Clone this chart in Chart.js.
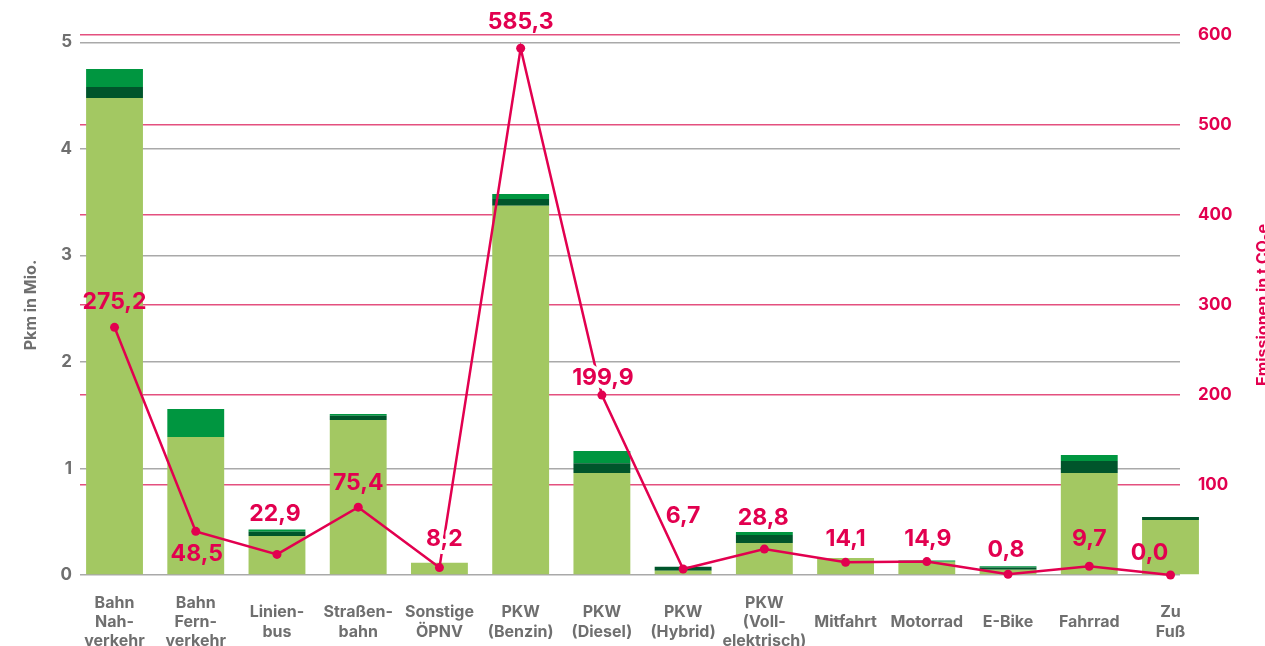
<!DOCTYPE html>
<html>
<head>
<meta charset="utf-8">
<script src="https://cdn.jsdelivr.net/npm/chart.js@4.4.1/dist/chart.umd.min.js"></script>
<style>
html,body{margin:0;padding:0;background:#fff;overflow:hidden}
#wrap{width:1265px;height:646px;position:relative}
</style>
</head>
<body>
<div id="wrap"><canvas id="c" width="1265" height="646"></canvas></div>
<script>
// ---- data ----
const categories = [
  ['Bahn','Nah-','verkehr'], ['Bahn','Fern-','verkehr'], ['Linien-','bus'], ['Straßen-','bahn'],
  ['Sonstige','ÖPNV'], ['PKW','(Benzin)'], ['PKW','(Diesel)'], ['PKW','(Hybrid)'],
  ['PKW','(Voll-','elektrisch)'], 'Mitfahrt', 'Motorrad', 'E-Bike', 'Fahrrad', ['Zu','Fuß']
];
const pkmLight  = [4.477, 1.295, 0.366, 1.455, 0.115, 3.466, 0.957, 0.040, 0.300, 0.160, 0.125, 0.050, 0.957, 0.516];
const pkmDark   = [0.103, 0.000, 0.040, 0.040, 0.000, 0.063, 0.091, 0.038, 0.075, 0.000, 0.000, 0.020, 0.113, 0.028];
const pkmMedium = [0.169, 0.263, 0.020, 0.016, 0.000, 0.047, 0.115, 0.000, 0.028, 0.000, 0.012, 0.012, 0.056, 0.000];
const emissions = [275.2, 48.5, 22.9, 75.4, 8.2, 585.3, 199.9, 6.7, 28.8, 14.1, 14.9, 0.8, 9.7, 0.0];
const leftTickStep = 1;
const rightTickStep = 100;
const leftTitle = 'Pkm in Mio.';
const rightTitle = 'Emissionen in t CO\u2082e';

// ---- styles ----
const PINK = '#e2004f';
const GRAY = '#6f6f6f';
const FONT = 'Inter';
const labelOffsets = [[0,-25],[1,23],[-2,-40],[0,-24],[5,-29],[0,-26],[1,-17],[0,-53],[-1,-31],[0,-23],[1,-23],[-2,-24],[0,-27],[-21,-22]];
const labelHalo = [false,false,false,false,true,false,true,false,false,false,false,false,false,false];

const toXY = arr => arr.map((v, i) => ({x: i, y: v}));

const valueLabels = {
  id: 'valueLabels',
  afterDatasetsDraw(chart) {
    const meta = chart.getDatasetMeta(3);
    const ctx = chart.ctx;
    ctx.save();
    ctx.font = 'bold 23px ' + FONT;
    ctx.textAlign = 'center';
    ctx.textBaseline = 'middle';
    ctx.lineJoin = 'round';
    meta.data.forEach((pt, i) => {
      const off = labelOffsets[i] || [0, -25];
      const txt = emissions[i].toFixed(1).replace('.', ',');
      const x = pt.x + off[0], y = pt.y + off[1];
      if (labelHalo[i]) {
        ctx.strokeStyle = '#ffffff';
        ctx.lineWidth = 8;
        ctx.strokeText(txt, x, y);
      }
      ctx.fillStyle = PINK;
      ctx.fillText(txt, x, y);
    });
    ctx.restore();
  }
};

const rightAxisTitle = {
  id: 'rightAxisTitle',
  afterDraw(chart) {
    const ctx = chart.ctx;
    const a = chart.chartArea;
    ctx.save();
    ctx.translate(1263, (a.top + a.bottom) / 2);
    ctx.rotate(-Math.PI / 2);
    ctx.font = 'bold 16px ' + FONT;
    ctx.fillStyle = PINK;
    ctx.textAlign = 'center';
    ctx.textBaseline = 'middle';
    ctx.fillText(rightTitle, 0, 0);
    ctx.restore();
  }
};

new Chart(document.getElementById('c'), {
  type: 'bar',
  data: {
    datasets: [
      {label: 'Pkm A', data: toXY(pkmLight), backgroundColor: '#a3c862', yAxisID: 'y', order: 2, clip: false},
      {label: 'Pkm B', data: toXY(pkmDark), backgroundColor: '#00552b', yAxisID: 'y', order: 2, clip: false},
      {label: 'Pkm C', data: toXY(pkmMedium), backgroundColor: '#009640', yAxisID: 'y', order: 2, clip: false},
      {type: 'line', label: 'Emissionen', data: toXY(emissions), yAxisID: 'y2', order: 0, clip: false,
       borderColor: PINK, borderWidth: 2.5, pointRadius: 4.5, pointBackgroundColor: PINK,
       pointBorderWidth: 0, tension: 0}
    ]
  },
  options: {
    responsive: false,
    animation: false,
    devicePixelRatio: 1,
    categoryPercentage: 1,
    barPercentage: 0.7,
    layout: {padding: {top: 35, left: 0, right: 0, bottom: 0}},
    plugins: {legend: {display: false}, tooltip: {enabled: false}},
    scales: {
      x: {
        type: 'linear', min: -0.425, max: 13.117, stacked: true, offset: false,
        grid: {display: false, drawTicks: false}, border: {display: false},
        ticks: {
          stepSize: 1, includeBounds: false, autoSkip: false, maxRotation: 0, minRotation: 0,
          crossAlign: 'center', padding: 28, color: GRAY,
          font: {family: FONT, weight: 'bold', size: 16, lineHeight: 1.2},
          callback: v => (Number.isInteger(v) && categories[v] !== undefined) ? categories[v] : ''
        },
        afterFit: s => { s.height = 71; }
      },
      y: {
        position: 'left', min: 0, max: 5.0685, stacked: true,
        grid: {color: '#a9a9a9', lineWidth: 1.5, drawTicks: false},
        border: {display: false},
        ticks: {stepSize: leftTickStep, includeBounds: false, padding: 8, color: GRAY,
                font: {family: FONT, weight: 'bold', size: 17}},
        title: {display: true, text: leftTitle, color: GRAY, padding: {top: 22, bottom: 0},
                font: {family: FONT, weight: 'bold', size: 16, lineHeight: 1.2}},
        afterFit: s => { s.width = 80; }
      },
      y2: {
        position: 'right', min: 0, max: 600,
        grid: {color: c => (c.tick && c.tick.value === 0) ? 'rgba(0,0,0,0)' : '#e4507f', lineWidth: 1.4, drawTicks: false},
        border: {display: false},
        ticks: {stepSize: rightTickStep, padding: 18, color: PINK,
                font: {family: FONT, weight: 'bold', size: 17},
                callback: v => v === 0 ? '' : String(v)},
        afterFit: s => { s.width = 85; }
      }
    }
  },
  plugins: [valueLabels, rightAxisTitle]
});
</script>
</body>
</html>
